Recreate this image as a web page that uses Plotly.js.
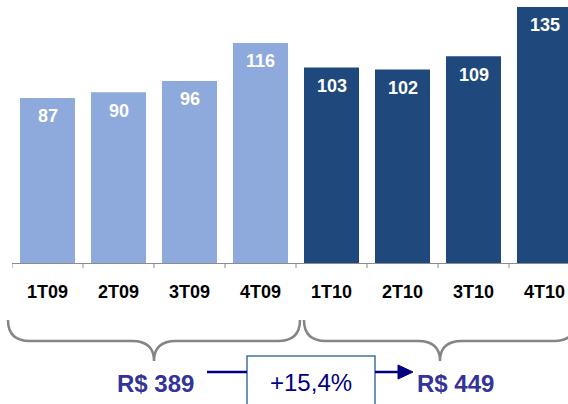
<!DOCTYPE html>
<html>
<head>
<meta charset="utf-8">
<script src="https://cdn.plot.ly/plotly-3.0.1.min.js"></script>
<style>html,body{margin:0;padding:0;overflow:hidden;background:#fff}</style>
</head>
<body>
<div id="chart" style="width:568px;height:404px"></div>
<script>
const categories = ['1T09','2T09','3T09','4T09','1T10','2T10','3T10','4T10'];
const values = [87, 90, 96, 116, 103, 102, 109, 135];
const years = ['2009','2009','2009','2009','2010','2010','2010','2010'];

const yearColors = {'2009': '#8EA9DB', '2010': '#1F497D'};
const W = 568, H = 404, ML = 12, MT = 0, MB = 141;
const PW = W - ML, PH = H - MT - MB;
const px = p => (p - ML) / PW;
const py = p => (MT + PH - p) / PH;
const FONT = 'Liberation Sans, Arial, sans-serif';

const sum = y => values.filter((v, i) => years[i] === y).reduce((a, b) => a + b, 0);
const t09 = sum('2009'), t10 = sum('2010');
const growth = ((t10 / t09 - 1) * 100).toFixed(1).replace('.', ',');

function brace(x0, xm, x1, yTop, yMid, yTip) {
  const r = 22;
  const pts = [
    `M ${px(x0)},${py(yTop)}`,
    `Q ${px(x0)},${py(yMid)} ${px(x0 + r)},${py(yMid)}`,
    `L ${px(xm - r)},${py(yMid)}`,
    `Q ${px(xm)},${py(yMid)} ${px(xm)},${py(yTip)}`,
    `Q ${px(xm)},${py(yMid)} ${px(xm + r)},${py(yMid)}`,
    `L ${px(x1 - r)},${py(yMid)}`,
    `Q ${px(x1)},${py(yMid)} ${px(x1)},${py(yTop)}`
  ];
  return {type: 'path', xref: 'paper', yref: 'paper', path: pts.join(' '),
          line: {color: '#858585', width: 2.5}};
}

const trace = {
  type: 'bar',
  x: categories.map((c, i) => i),
  y: values,
  marker: {color: years.map(y => yearColors[y])},
  hoverinfo: 'skip'
};

const barLabels = values.map((v, i) => ({
  x: i, y: v, xref: 'x', yref: 'y', text: String(v), showarrow: false,
  yanchor: 'middle', yshift: -18.5,
  font: {family: FONT, size: 18, color: '#ffffff', weight: 'bold'}
}));

const layout = {
  width: W, height: H,
  margin: {l: ML, r: 0, t: MT, b: MB, pad: 0},
  paper_bgcolor: '#ffffff', plot_bgcolor: '#ffffff',
  showlegend: false,
  bargap: 0.225,
  xaxis: {
    type: 'linear', range: [-0.5, -0.5 + PW / 71], autorange: false,
    tickvals: categories.map((c, i) => i), ticktext: categories,
    showline: true, linecolor: '#8c8c8c', linewidth: 1,
    ticks: '', showgrid: false, zeroline: false,
    tickfont: {family: FONT, size: 18, color: '#000000', weight: 'bold'},
    ticklabelstandoff: 12, fixedrange: true
  },
  yaxis: {range: [0, PH / 1.897], autorange: false, visible: false, fixedrange: true},
  shapes: [
    ...categories.concat(['']).map((c, i) => ({
      type: 'line', xref: 'x', yref: 'paper', x0: i - 0.5, x1: i - 0.5,
      y0: 0, y1: py(MT + PH + 5), line: {color: '#8c8c8c', width: 1}
    })),
    brace(8, 154, 300, 320, 341, 361),
    brace(304, 440, 576, 320, 341, 361),
    {type: 'rect', xref: 'paper', yref: 'paper', x0: px(247), x1: px(375), y0: py(356), y1: py(412),
     line: {color: '#41719C', width: 1.5}, fillcolor: 'rgba(0,0,0,0)'},
    {type: 'line', xref: 'paper', yref: 'paper', x0: px(207), x1: px(247), y0: py(372), y1: py(372),
     line: {color: '#000080', width: 2.5}},
    {type: 'line', xref: 'paper', yref: 'paper', x0: px(375), x1: px(400), y0: py(372), y1: py(372),
     line: {color: '#000080', width: 2.5}},
    {type: 'path', xref: 'paper', yref: 'paper',
     path: `M ${px(398)},${py(365)} L ${px(413)},${py(372)} L ${px(398)},${py(379)} Z`,
     fillcolor: '#000080', line: {color: '#000080', width: 1}}
  ],
  annotations: barLabels.concat([
    {xref: 'paper', yref: 'paper', x: px(155), y: py(383.5), text: 'R$ ' + t09, showarrow: false,
     xanchor: 'center', yanchor: 'middle',
     font: {family: FONT, size: 24, color: '#333399', weight: 'bold'}},
    {xref: 'paper', yref: 'paper', x: px(455), y: py(383.5), text: 'R$ ' + t10, showarrow: false,
     xanchor: 'center', yanchor: 'middle',
     font: {family: FONT, size: 24, color: '#333399', weight: 'bold'}},
    {xref: 'paper', yref: 'paper', x: px(311), y: py(382.5), text: '+' + growth + '%', showarrow: false,
     xanchor: 'center', yanchor: 'middle',
     font: {family: FONT, size: 24, color: '#000080'}}
  ])
};

Plotly.newPlot('chart', [trace], layout, {displayModeBar: false, staticPlot: true});
</script>
</body>
</html>
